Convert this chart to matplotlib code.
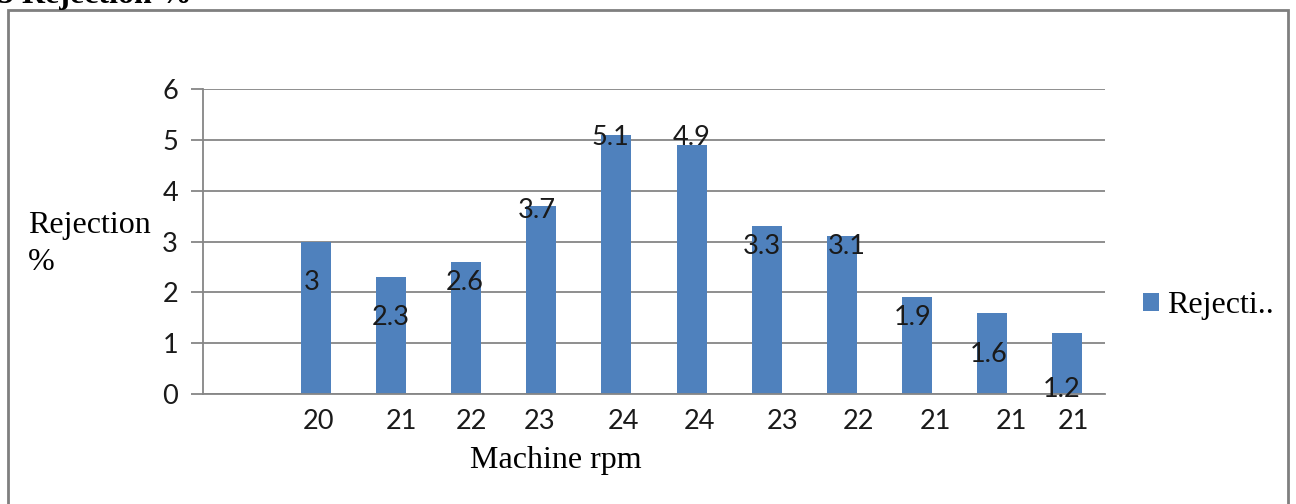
import matplotlib
matplotlib.use("Agg")
import matplotlib.pyplot as plt
import matplotlib.transforms as mtransforms
from matplotlib.patches import Rectangle
import numpy as np

# data
rpm_labels = ["", "20", "21", "22", "23", "24", "24", "23", "22", "21", "21", "21"]
rejection = [3, 2.3, 2.6, 3.7, 5.1, 4.9, 3.3, 3.1, 1.9, 1.6, 1.2]
yticks = [0, 1, 2, 3, 4, 5, 6]

BAR = "#4F81BD"
GRID = "#868686"
SERIF = "Liberation Serif"
SANS = "Lato"

W, H = 1296, 504
fig = plt.figure(figsize=(W / 100, H / 100), dpi=100)
fig.patch.set_facecolor("white")


def px(x0, y0, x1, y1):
    # pixel box (from top-left) -> figure fraction rect
    return [x0 / W, 1 - y1 / H, (x1 - x0) / W, (y1 - y0) / H]


ax = fig.add_axes(px(203, 89, 1105, 394))

x = np.arange(1, len(rpm_labels))
bars = ax.bar(x, rejection, width=0.4, color=BAR, zorder=3, label="Rejecti..")

ax.set_xlim(-0.5, len(rpm_labels) - 0.5)
ax.set_ylim(0, 6)
ax.set_yticks(yticks)
ax.set_yticklabels([str(t) for t in yticks], fontfamily=SANS, fontsize=19.5)
ax.set_xticks(np.arange(len(rpm_labels)))
ax.set_xticklabels(rpm_labels, fontfamily=SANS, fontsize=19.5)
ax.tick_params(axis="x", length=0, pad=11, colors="#1a1a1a")
ax.tick_params(axis="y", length=9, width=1.3, color=GRID, pad=9, colors="#1a1a1a")
for lab in ax.get_yticklabels():
    lab.set_color("#1a1a1a")
ax.yaxis.grid(True, color=GRID, linewidth=1.3, zorder=0)
for s in ["top", "right"]:
    ax.spines[s].set_visible(False)
for s in ["left", "bottom"]:
    ax.spines[s].set_color(GRID)
    ax.spines[s].set_linewidth(1.3)
ax.spines["bottom"].set_zorder(4)

# x tick label nudges (pixels), labels are not centred in the original
nudge = [0, 2.5, 10.5, 5, -1.5, 7, 8, 16, 16.5, 18.5, 19, 6.5]
for lab, dx in zip(ax.get_xticklabels(), nudge):
    lab.set_transform(lab.get_transform() + mtransforms.ScaledTranslation(dx / 100, 0, fig.dpi_scale_trans))

# data labels, placed where the original had them
label_y = [2.24, 1.55, 2.24, 3.66, 5.10, 5.10, 2.95, 2.95, 1.55, 0.83, 0.14]
label_dx = [-4, 0, -1.5, -4.5, -6.5, 0.5, -4.5, 4.5, -4.5, -3.5, -5.5]
for xi, v, ly, dx in zip(x, rejection, label_y, label_dx):
    tr = ax.transData + mtransforms.ScaledTranslation(dx / 100, -10 / 100, fig.dpi_scale_trans)
    ax.text(xi, ly, f"{v:g}", transform=tr, ha="center", va="baseline",
            fontfamily=SANS, fontsize=19.5, color="#1a1a1a", zorder=5)

# axis titles
fig.text(556 / W, 1 - 468 / H, "Machine rpm", ha="center", va="baseline",
         fontfamily=SERIF, fontsize=23)
fig.text(28 / W, 1 - 233 / H, "Rejection", ha="left", va="baseline",
         fontfamily=SERIF, fontsize=23)
fig.text(28 / W, 1 - 270 / H, "%", ha="left", va="baseline",
         fontfamily=SERIF, fontsize=23)

# legend
leg = fig.legend(handles=[bars], labels=["Rejecti.."], loc="center left",
                 bbox_to_anchor=(1130 / W, 1 - 306 / H), frameon=False,
                 prop={"family": SERIF, "size": 23}, handlelength=0.5,
                 handleheight=0.5, handletextpad=0.25, borderaxespad=0)

# outer chart frame and clipped heading above it
fig.patches.append(Rectangle((8 / W, -0.1), 1280 / W, 1.1 - 10 / H, transform=fig.transFigure,
                             fill=False, edgecolor="#7f7f7f", linewidth=2))
fig.text(-2 / W, 1 - 3 / H, "5 Rejection %", ha="left", va="baseline",
         fontfamily=SERIF, fontweight="bold", fontsize=23)

fig.savefig("out.png", dpi=100)
